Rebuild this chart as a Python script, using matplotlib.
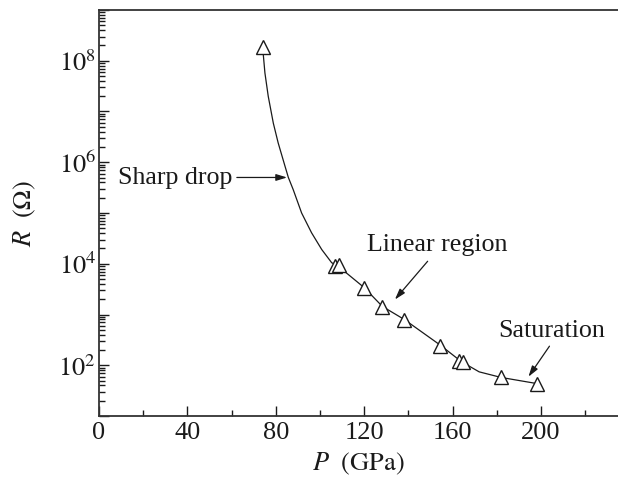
import numpy as np
import matplotlib
matplotlib.use('Agg')
import matplotlib.pyplot as plt
from matplotlib.ticker import LogLocator, FixedLocator, MultipleLocator, FuncFormatter, NullFormatter

plt.rcParams['font.family'] = ['Liberation Serif', 'DejaVu Serif']
plt.rcParams['mathtext.fontset'] = 'stix'

########################################################################################################################
#Measured points (pressure in GPa, resistance in Ohm).
p_meas = [74.1, 107.0, 108.8, 120.0, 128.2, 138.2, 154.3, 162.9, 164.8, 181.9, 198.0]
r_meas = [1.9e8, 9.1e3, 9.4e3, 3.4e3, 1.4e3, 7.9e2, 2.45e2, 1.2e2, 1.15e2, 57.5, 43.6]

#Guide curve.
p_fit = [74.1, 75.1, 76.6, 78.9, 81.1, 84.2, 85.7, 87.9, 91.7, 96.2, 100.8, 105.3, 108.0,
         120.0, 128.2, 138.2, 154.3, 164.0, 172.0, 181.9, 198.0]
logr_fit = [8.25, 7.76, 7.30, 6.77, 6.38, 5.92, 5.70, 5.46, 5.00, 4.61, 4.28, 4.02, 3.96,
            3.53, 3.16, 2.90, 2.40, 2.07, 1.87, 1.76, 1.64]
r_fit = [10 ** v for v in logr_fit]

x_ticks = [0, 40, 80, 120, 160, 200]
y_labelled = [2, 4, 6, 8]

########################################################################################################################
fig = plt.figure(figsize=(6.18, 4.78), dpi=100)
ax = fig.add_axes([0.160, 0.1297, 0.840, 0.8494])

ink = '#1a1a1a'
ax.plot(p_fit, r_fit, color=ink, lw=0.9, zorder=2)
ax.plot(p_meas, r_meas, ls='none', marker='^', ms=9.5, mfc='white', mec=ink, mew=1.0, zorder=3)

ax.set_yscale('log')
ax.set_xlim(0, 234.8)
ax.set_ylim(1e1, 1e9)

ax.xaxis.set_major_locator(FixedLocator(x_ticks))
ax.xaxis.set_minor_locator(MultipleLocator(20))
ax.yaxis.set_major_locator(LogLocator(base=10, numticks=20))
ax.yaxis.set_minor_locator(LogLocator(base=10, subs=np.arange(2, 10), numticks=20))
ax.yaxis.set_minor_formatter(NullFormatter())


def ylab(v, pos):
    e = int(round(np.log10(v)))
    return r'$10^{%d}$' % e if e in y_labelled else ''


ax.yaxis.set_major_formatter(FuncFormatter(ylab))

ax.tick_params(which='both', direction='in', top=False, right=False, colors=ink, width=1.0)
ax.tick_params(which='major', length=7.5, labelsize=19)
ax.tick_params(which='minor', length=4.3)
ax.tick_params(axis='x', which='major', pad=4)
ax.tick_params(axis='y', which='major', pad=2)

ax.spines['right'].set_visible(False)
for s in ['left', 'bottom', 'top']:
    ax.spines[s].set_linewidth(1.3)
    ax.spines[s].set_color('#333333')

ax.set_xlabel(r'$P\ \ (\mathrm{GPa})$', fontsize=19, color=ink)
ax.set_ylabel(r'$R\ \ (\Omega)$', fontsize=19, color=ink)
ax.xaxis.set_label_coords(0.5, -0.085)
ax.yaxis.set_label_coords(-0.118, 0.5)

#Annotations.
arrow = dict(arrowstyle='-|>,head_length=0.65,head_width=0.2', color=ink, lw=0.9, shrinkA=0, shrinkB=0)
ax.text(60.3, 10 ** 5.573, 'Sharp drop', ha='right', va='baseline', fontsize=18.7, color=ink)
ax.annotate('', xy=(85.1, 10 ** 5.70), xytext=(62.4, 10 ** 5.70), arrowprops=arrow)
ax.text(153.1, 10 ** 4.246, 'Linear region', ha='center', va='baseline', fontsize=18.7, color=ink)
ax.annotate('', xy=(133.9, 10 ** 3.295), xytext=(148.7, 10 ** 4.049), arrowprops=arrow)
ax.text(204.8, 10 ** 2.561, 'Saturation', ha='center', va='baseline', fontsize=18.7, color=ink)
ax.annotate('', xy=(194.3, 10 ** 1.774), xytext=(203.8, 10 ** 2.376), arrowprops=arrow)

fig.savefig('out.png', dpi=100)
